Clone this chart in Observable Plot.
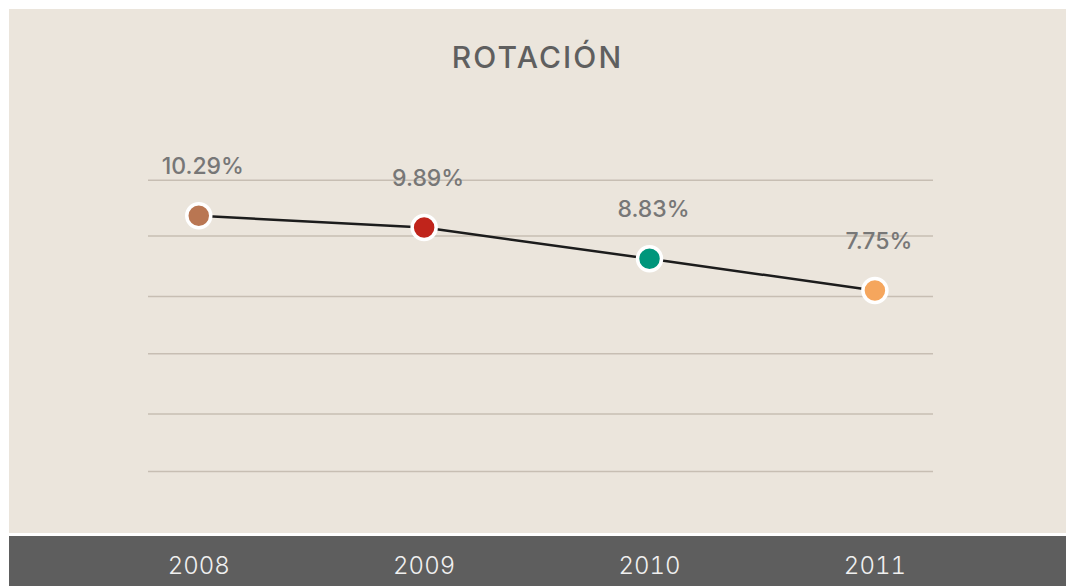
<!DOCTYPE html>
<html>
<head>
<meta charset="utf-8">
<script src="https://cdn.jsdelivr.net/npm/d3@7"></script>
<script src="https://cdn.jsdelivr.net/npm/@observablehq/plot@0.6"></script>
<style>
  html, body { margin: 0; padding: 0; background: #ffffff; }
  #wrap { position: absolute; left: 9px; top: 9px; width: 1057px; height: 577px; }
  #title {
    height: 90px; background: #ebe5dc; color: #5f5f5f;
    font-family: Inter, sans-serif; font-size: 30px; font-weight: 500;
    letter-spacing: 2.1px; text-align: center; line-height: 97px;
  }
  #chart svg { display: block; }
</style>
</head>
<body>
<div id="wrap">
  <div id="title">ROTACIÓN</div>
  <div id="chart"></div>
</div>
<script>
// Data
const years = [2008, 2009, 2010, 2011];
const values = [10.29, 9.89, 8.83, 7.75];
const colors = ["#b97652", "#c0241b", "#00967b", "#f5a65d"];
const gridValues = [1.6, 3.55, 5.6, 7.55, 9.6, 11.5];

const data = years.map((year, i) => ({ year, value: values[i], color: colors[i] }));

const chart = Plot.plot({
  width: 1057,
  height: 487,
  marginTop: 66,
  marginBottom: 68,
  marginLeft: 139,
  marginRight: 133,
  style: {
    fontFamily: "Inter, sans-serif",
    background: "linear-gradient(to bottom, #ebe5dc 0px, #ebe5dc 434px, #ffffff 434px, #ffffff 436.7px, #5e5e5e 436.7px)",
    overflow: "visible"
  },
  x: { domain: [2007.777, 2011.26], axis: null },
  y: { domain: [0, 12], axis: null },
  color: { type: "identity" },
  marks: [
    Plot.ruleY(gridValues, { stroke: "#c7beb3", strokeWidth: 1.5 }),
    Plot.line(data, { x: "year", y: "value", stroke: "#1c1c1c", strokeWidth: 2.5 }),
    Plot.dot(data, { x: "year", y: "value", r: 12, fill: "color", stroke: "#ffffff", strokeWidth: 3.5 }),
    Plot.text(data, {
      x: "year", y: "value",
      text: d => d.value.toFixed(2) + "%",
      dy: -49, dx: 4, fontSize: 23, fontWeight: 500, fill: "#777777",
      style: "letter-spacing:0.6px"
    }),
    Plot.axisX(years, {
      tickSize: 0, tickPadding: 38, tickFormat: d => String(d),
      fontSize: 24, fontWeight: 300, fill: "#f0f0f0", label: null
    })
  ]
});
document.getElementById("chart").appendChild(chart);
</script>
</body>
</html>
